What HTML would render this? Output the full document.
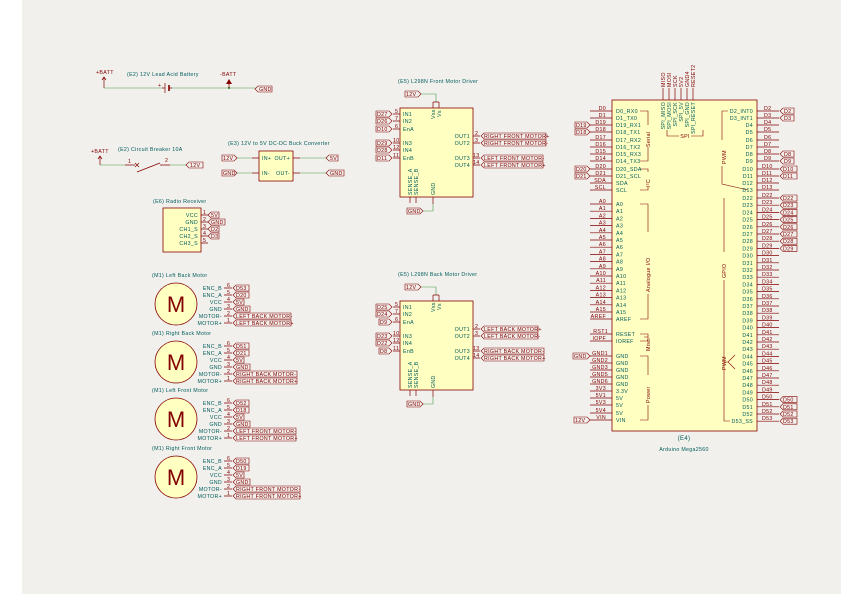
<!DOCTYPE html>
<html><head><meta charset="utf-8"><style>
html,body{margin:0;padding:0;background:#fff;}
svg{display:block;font-family:"Liberation Sans",sans-serif;}
.b{fill:#ffffc2;stroke:#840000;stroke-width:.8}
.p{stroke:#840000;stroke-width:.7;fill:none}
.w{stroke:#4a9a4a;stroke-width:.6;fill:none}
.g{stroke:#840000;stroke-width:.6;fill:none}
text{font-size:5.3px;letter-spacing:.3px}
.t{fill:#005c5c}
.r{fill:#840000}
.e{text-anchor:end}
.m{text-anchor:middle}
.l{fill:none;stroke:#840000;stroke-width:.6}
</style></head><body>
<svg width="841" height="595" viewBox="0 0 841 595" xmlns="http://www.w3.org/2000/svg">
<rect x="22" y="0" width="819" height="594" fill="#f1f0ec"/>

<!-- Battery -->
<text x="96" y="74" class="r">+BATT</text>
<path class="p" d="M104,77V88M102,80L104,77L106,80"/>
<path class="w" d="M104,88H162M171,88H255"/>
<path class="p" d="M162,88H165M165,83V93M169,88H172"/><path d="M169,85V91" stroke="#840000" stroke-width="1.6"/>
<text x="158" y="87" class="r">+</text>
<circle cx="229" cy="88" r="1.2" fill="#4a9a4a"/>
<text x="220" y="76" class="r">-BATT</text>
<path class="p" d="M229,81V88"/><path d="M226,84L229,79L232,84Z" fill="#840000"/>
<polygon class="l" points="255,89 258,86 272,86 272,92 258,92"/><text x="259" y="91" class="r">GND</text>
<text x="127" y="76" class="t">(E2) 12V Lead Acid Battery</text>

<!-- Breaker -->
<text x="91" y="153" class="r">+BATT</text>
<path class="p" d="M100,156V165M98,159L100,156L102,159"/>
<path class="w" d="M100,165H125M170,165H186"/>
<path class="p" d="M125,165H135M135,163L139,167M139,163L135,167M137,172L160,163M160,165H170"/>
<text x="128" y="163" class="r">1</text><text x="165" y="162" class="r">2</text>
<polygon class="l" points="186,165 189,162 203,162 203,168 189,168"/><text x="190" y="167" class="r">12V</text>
<text x="118" y="151" class="t">(E2) Circuit Breaker 10A</text>

<!-- Buck -->
<text x="228" y="145" class="t">(E3) 12V to 5V DC-DC Buck Converter</text>
<rect x="259" y="151" width="34" height="30" class="b"/>
<text x="262" y="160" class="t">IN+</text><text x="262" y="175" class="t">IN-</text>
<text x="290" y="160" class="t e">OUT+</text><text x="290" y="175" class="t e">OUT-</text>
<path class="p" d="M252,158H259M252,173H259M293,158H300M293,173H300"/>
<path class="w" d="M237,158H252M237,173H252M300,158H326M300,173H326"/>
<polygon class="l" points="237,158 234,155 222,155 222,161 234,161"/><text x="223" y="160" class="r">12V</text>
<polygon class="l" points="237,173 234,170 222,170 222,176 234,176"/><text x="223" y="175" class="r">GND</text>
<polygon class="l" points="326,158 329,155 338,155 338,161 329,161"/><text x="330" y="160" class="r">5V</text>
<polygon class="l" points="326,173 329,170 344,170 344,176 329,176"/><text x="330" y="175" class="r">GND</text>

<!-- Radio -->
<text x="153" y="203" class="t">(E6) Radio Receiver</text>
<rect x="163" y="208" width="38" height="44" class="b"/>
<g class="t e"><text x="198" y="217">VCC</text><text x="198" y="224">GND</text><text x="198" y="231">CH1_S</text><text x="198" y="238">CH2_S</text><text x="198" y="245">CH3_S</text></g>
<path class="p" d="M201,215H208M201,222H208M201,229H208M201,236H208M201,243H208"/>
<g class="r"><text x="203" y="214">1</text><text x="203" y="221">2</text><text x="203" y="228">3</text><text x="203" y="235">4</text><text x="203" y="242">5</text></g>
<polygon class="l" points="208,215 211,212 219,212 219,218 211,218"/><text x="211" y="217" class="r">5V</text>
<polygon class="l" points="208,222 211,219 225,219 225,225 211,225"/><text x="211" y="224" class="r">GND</text>
<polygon class="l" points="208,229 211,226 219,226 219,232 211,232"/><text x="211" y="231" class="r">D2</text>
<polygon class="l" points="208,236 211,233 219,233 219,239 211,239"/><text x="211" y="238" class="r">D3</text>

<!-- Motors -->
<g>
<text x="152" y="277" class="t">(M1) Left Back Motor</text>
<circle cx="176" cy="304" r="21" class="b"/><text x="176" y="312" class="r m" style="font-size:22px;letter-spacing:0">M</text>
<g class="t e"><text x="222" y="290">ENC_B</text><text x="222" y="297">ENC_A</text><text x="222" y="304">VCC</text><text x="222" y="311">GND</text><text x="222" y="318">MOTOR-</text><text x="222" y="325">MOTOR+</text></g>
<path class="p" d="M224,288H232M224,295H232M224,302H232M224,309H232M224,316H232M224,323H232"/>
<g class="r"><text x="227" y="287">6</text><text x="227" y="294">5</text><text x="227" y="301">4</text><text x="227" y="308">3</text><text x="227" y="315">2</text><text x="227" y="322">1</text></g>
<polygon class="l" points="233,288 236,285 249,285 249,291 236,291"/><text x="236" y="290" class="r">D53</text>
<polygon class="l" points="233,295 236,292 249,292 249,298 236,298"/><text x="236" y="297" class="r">D20</text>
<polygon class="l" points="233,302 236,299 244,299 244,305 236,305"/><text x="236" y="304" class="r">5V</text>
<polygon class="l" points="233,309 236,306 250,306 250,312 236,312"/><text x="236" y="311" class="r">GND</text>
<polygon class="l" points="233,316 236,313 291,313 291,319 236,319"/><text x="236" y="318" class="r">LEFT BACK MOTOR-</text>
<polygon class="l" points="233,323 236,320 291,320 291,326 236,326"/><text x="236" y="325" class="r">LEFT BACK MOTOR+</text>
</g>
<g transform="translate(0,58)">
<text x="152" y="277" class="t">(M1) Right Back Motor</text>
<circle cx="176" cy="304" r="21" class="b"/><text x="176" y="312" class="r m" style="font-size:22px;letter-spacing:0">M</text>
<g class="t e"><text x="222" y="290">ENC_B</text><text x="222" y="297">ENC_A</text><text x="222" y="304">VCC</text><text x="222" y="311">GND</text><text x="222" y="318">MOTOR-</text><text x="222" y="325">MOTOR+</text></g>
<path class="p" d="M224,288H232M224,295H232M224,302H232M224,309H232M224,316H232M224,323H232"/>
<g class="r"><text x="227" y="287">6</text><text x="227" y="294">5</text><text x="227" y="301">4</text><text x="227" y="308">3</text><text x="227" y="315">2</text><text x="227" y="322">1</text></g>
<polygon class="l" points="233,288 236,285 249,285 249,291 236,291"/><text x="236" y="290" class="r">D51</text>
<polygon class="l" points="233,295 236,292 249,292 249,298 236,298"/><text x="236" y="297" class="r">D21</text>
<polygon class="l" points="233,302 236,299 244,299 244,305 236,305"/><text x="236" y="304" class="r">5V</text>
<polygon class="l" points="233,309 236,306 250,306 250,312 236,312"/><text x="236" y="311" class="r">GND</text>
<polygon class="l" points="233,316 236,313 297,313 297,319 236,319"/><text x="236" y="318" class="r">RIGHT BACK MOTOR-</text>
<polygon class="l" points="233,323 236,320 297,320 297,326 236,326"/><text x="236" y="325" class="r">RIGHT BACK MOTOR+</text>
</g>
<g transform="translate(0,115)">
<text x="152" y="277" class="t">(M1) Left Front Motor</text>
<circle cx="176" cy="304" r="21" class="b"/><text x="176" y="312" class="r m" style="font-size:22px;letter-spacing:0">M</text>
<g class="t e"><text x="222" y="290">ENC_B</text><text x="222" y="297">ENC_A</text><text x="222" y="304">VCC</text><text x="222" y="311">GND</text><text x="222" y="318">MOTOR-</text><text x="222" y="325">MOTOR+</text></g>
<path class="p" d="M224,288H232M224,295H232M224,302H232M224,309H232M224,316H232M224,323H232"/>
<g class="r"><text x="227" y="287">6</text><text x="227" y="294">5</text><text x="227" y="301">4</text><text x="227" y="308">3</text><text x="227" y="315">2</text><text x="227" y="322">1</text></g>
<polygon class="l" points="233,288 236,285 249,285 249,291 236,291"/><text x="236" y="290" class="r">D52</text>
<polygon class="l" points="233,295 236,292 249,292 249,298 236,298"/><text x="236" y="297" class="r">D18</text>
<polygon class="l" points="233,302 236,299 244,299 244,305 236,305"/><text x="236" y="304" class="r">5V</text>
<polygon class="l" points="233,309 236,306 250,306 250,312 236,312"/><text x="236" y="311" class="r">GND</text>
<polygon class="l" points="233,316 236,313 296,313 296,319 236,319"/><text x="236" y="318" class="r">LEFT FRONT MOTOR-</text>
<polygon class="l" points="233,323 236,320 296,320 296,326 236,326"/><text x="236" y="325" class="r">LEFT FRONT MOTOR+</text>
</g>
<g transform="translate(0,173)">
<text x="152" y="277" class="t">(M1) Right Front Motor</text>
<circle cx="176" cy="304" r="21" class="b"/><text x="176" y="312" class="r m" style="font-size:22px;letter-spacing:0">M</text>
<g class="t e"><text x="222" y="290">ENC_B</text><text x="222" y="297">ENC_A</text><text x="222" y="304">VCC</text><text x="222" y="311">GND</text><text x="222" y="318">MOTOR-</text><text x="222" y="325">MOTOR+</text></g>
<path class="p" d="M224,288H232M224,295H232M224,302H232M224,309H232M224,316H232M224,323H232"/>
<g class="r"><text x="227" y="287">6</text><text x="227" y="294">5</text><text x="227" y="301">4</text><text x="227" y="308">3</text><text x="227" y="315">2</text><text x="227" y="322">1</text></g>
<polygon class="l" points="233,288 236,285 249,285 249,291 236,291"/><text x="236" y="290" class="r">D50</text>
<polygon class="l" points="233,295 236,292 249,292 249,298 236,298"/><text x="236" y="297" class="r">D19</text>
<polygon class="l" points="233,302 236,299 244,299 244,305 236,305"/><text x="236" y="304" class="r">5V</text>
<polygon class="l" points="233,309 236,306 250,306 250,312 236,312"/><text x="236" y="311" class="r">GND</text>
<polygon class="l" points="233,316 236,313 300,313 300,319 236,319"/><text x="236" y="318" class="r">RIGHT FRONT MOTOR-</text>
<polygon class="l" points="233,323 236,320 300,320 300,326 236,326"/><text x="236" y="325" class="r">RIGHT FRONT MOTOR+</text>
</g>

<!-- L298N Front -->
<g>
<text x="398" y="83" class="t">(E5) L298N Front Motor Driver</text>
<polygon class="l" points="421,94 418,91 405,91 405,97 418,97"/><text x="406" y="96" class="r">12V</text>
<path class="w" d="M421,94H436V102"/>
<path class="p" d="M433,102V108M439,102V108M433,102H439"/>
<rect x="400" y="108" width="73" height="89" class="b"/>
<text transform="translate(435,119) rotate(-90)" class="t">Vss</text><text transform="translate(441,117) rotate(-90)" class="t">Vs</text>
<g class="t"><text x="403" y="116">IN1</text><text x="403" y="123">IN2</text><text x="403" y="131">EnA</text><text x="403" y="145">IN3</text><text x="403" y="152">IN4</text><text x="403" y="160">EnB</text></g>
<path class="p" d="M393,114H400M393,121H400M393,129H400M393,143H400M393,150H400M393,158H400"/>
<g class="r"><text x="395" y="113">5</text><text x="395" y="120">7</text><text x="395" y="128">6</text><text x="393" y="142">10</text><text x="393" y="149">12</text><text x="393" y="157">11</text></g>
<polygon class="l" points="392,114 389,111 376,111 376,117 389,117"/><text x="377" y="116" class="r">D27</text>
<polygon class="l" points="392,121 389,118 376,118 376,124 389,124"/><text x="377" y="123" class="r">D26</text>
<polygon class="l" points="392,129 389,126 376,126 376,132 389,132"/><text x="377" y="131" class="r">D10</text>
<polygon class="l" points="392,143 389,140 376,140 376,146 389,146"/><text x="377" y="145" class="r">D29</text>
<polygon class="l" points="392,150 389,147 376,147 376,153 389,153"/><text x="377" y="152" class="r">D28</text>
<polygon class="l" points="392,158 389,155 376,155 376,161 389,161"/><text x="377" y="160" class="r">D11</text>
<g class="t e"><text x="470" y="138">OUT1</text><text x="470" y="145">OUT2</text><text x="470" y="160">OUT3</text><text x="470" y="167">OUT4</text></g>
<path class="p" d="M473,136H480M473,143H480M473,158H480M473,165H480"/>
<g class="r"><text x="475" y="135">2</text><text x="475" y="142">3</text><text x="473" y="157">13</text><text x="473" y="164">14</text></g>
<polygon class="l" points="481,136 484,133 546,133 546,139 484,139"/><text x="484" y="138" class="r">RIGHT FRONT MOTOR+</text>
<polygon class="l" points="481,143 484,140 546,140 546,146 484,146"/><text x="484" y="145" class="r">RIGHT FRONT MOTOR-</text>
<polygon class="l" points="481,158 484,155 543,155 543,161 484,161"/><text x="484" y="160" class="r">LEFT FRONT MOTOR-</text>
<polygon class="l" points="481,165 484,162 543,162 543,168 484,168"/><text x="484" y="167" class="r">LEFT FRONT MOTOR+</text>
<text transform="translate(412,195) rotate(-90)" class="t">SENSE_A</text><text transform="translate(418,195) rotate(-90)" class="t">SENSE_B</text><text transform="translate(435,195) rotate(-90)" class="t">GND</text>
<path class="p" d="M410,197V203M416,197V203M433,197V204"/>
<path class="w" d="M433,204V211H423"/>
<polygon class="l" points="423,211 420,208 407,208 407,214 420,214"/><text x="408" y="213" class="r">GND</text>
</g>

<!-- L298N Back -->
<g transform="translate(0,193)">
<text x="398" y="83" class="t">(E5) L298N Back Motor Driver</text>
<polygon class="l" points="421,94 418,91 405,91 405,97 418,97"/><text x="406" y="96" class="r">12V</text>
<path class="w" d="M421,94H436V102"/>
<path class="p" d="M433,102V108M439,102V108M433,102H439"/>
<rect x="400" y="108" width="73" height="89" class="b"/>
<text transform="translate(435,119) rotate(-90)" class="t">Vss</text><text transform="translate(441,117) rotate(-90)" class="t">Vs</text>
<g class="t"><text x="403" y="116">IN1</text><text x="403" y="123">IN2</text><text x="403" y="131">EnA</text><text x="403" y="145">IN3</text><text x="403" y="152">IN4</text><text x="403" y="160">EnB</text></g>
<path class="p" d="M393,114H400M393,121H400M393,129H400M393,143H400M393,150H400M393,158H400"/>
<g class="r"><text x="395" y="113">5</text><text x="395" y="120">7</text><text x="395" y="128">6</text><text x="393" y="142">10</text><text x="393" y="149">12</text><text x="393" y="157">11</text></g>
<polygon class="l" points="392,114 389,111 376,111 376,117 389,117"/><text x="377" y="116" class="r">D25</text>
<polygon class="l" points="392,121 389,118 376,118 376,124 389,124"/><text x="377" y="123" class="r">D24</text>
<polygon class="l" points="392,129 389,126 379,126 379,132 389,132"/><text x="380" y="131" class="r">D9</text>
<polygon class="l" points="392,143 389,140 376,140 376,146 389,146"/><text x="377" y="145" class="r">D23</text>
<polygon class="l" points="392,150 389,147 376,147 376,153 389,153"/><text x="377" y="152" class="r">D22</text>
<polygon class="l" points="392,158 389,155 379,155 379,161 389,161"/><text x="380" y="160" class="r">D8</text>
<g class="t e"><text x="470" y="138">OUT1</text><text x="470" y="145">OUT2</text><text x="470" y="160">OUT3</text><text x="470" y="167">OUT4</text></g>
<path class="p" d="M473,136H480M473,143H480M473,158H480M473,165H480"/>
<g class="r"><text x="475" y="135">2</text><text x="475" y="142">3</text><text x="473" y="157">13</text><text x="473" y="164">14</text></g>
<polygon class="l" points="481,136 484,133 538,133 538,139 484,139"/><text x="484" y="138" class="r">LEFT BACK MOTOR+</text>
<polygon class="l" points="481,143 484,140 538,140 538,146 484,146"/><text x="484" y="145" class="r">LEFT BACK MOTOR-</text>
<polygon class="l" points="481,158 484,155 544,155 544,161 484,161"/><text x="484" y="160" class="r">RIGHT BACK MOTOR-</text>
<polygon class="l" points="481,165 484,162 544,162 544,168 484,168"/><text x="484" y="167" class="r">RIGHT BACK MOTOR+</text>
<text transform="translate(412,195) rotate(-90)" class="t">SENSE_A</text><text transform="translate(418,195) rotate(-90)" class="t">SENSE_B</text><text transform="translate(435,195) rotate(-90)" class="t">GND</text>
<path class="p" d="M410,197V203M416,197V203M433,197V204"/>
<path class="w" d="M433,204V211H423"/>
<polygon class="l" points="423,211 420,208 407,208 407,214 420,214"/><text x="408" y="213" class="r">GND</text>
</g>

<!-- Arduino -->
<rect x="612" y="100" width="145" height="331" class="b"/>
<text x="684" y="440" class="t m" style="font-size:6px">(E4)</text>
<text x="684" y="451" class="t m">Arduino Mega2560</text>
<path class="p" d="M663,88V100M669,88V100M675,88V100M681,88V100M687,88V100M693,88V100"/>
<g class="r"><text transform="translate(665,87) rotate(-90)">MISO</text><text transform="translate(671,87) rotate(-90)">MOSI</text><text transform="translate(677,87) rotate(-90)">SCK</text><text transform="translate(683,87) rotate(-90)">5V2</text><text transform="translate(689,87) rotate(-90)">GND4</text><text transform="translate(695,87) rotate(-90)">RESET2</text></g>
<g class="t e"><text transform="translate(665,102) rotate(-90)">SPI_MISO</text><text transform="translate(671,102) rotate(-90)">SPI_MOSI</text><text transform="translate(677,102) rotate(-90)">SPI_SCK</text><text transform="translate(683,102) rotate(-90)">SPI_5V</text><text transform="translate(689,102) rotate(-90)">SPI_GND</text><text transform="translate(695,102) rotate(-90)">SPI_RESET</text></g>
<path class="g" d="M667,130V136H679M691,136H703V130"/><text x="685" y="138" class="r m">SPI</text>
<path class="g" d="M640,111H648V125M648,147V161H640M640,169H648V172M648,187V190H640M640,204H648V232M648,294V319H640M640,334H648V341H640M644,337H648M640,356H648V375M648,405V420H640"/>
<text transform="translate(650,147) rotate(-90)" class="r">Serial</text>
<text transform="translate(650,187) rotate(-90)" class="r">I²C</text>
<text transform="translate(650,292) rotate(-90)" class="r">Analogue I/O</text>
<text transform="translate(650,351) rotate(-90)" class="r">Misc.</text>
<text transform="translate(650,403) rotate(-90)" class="r">Power</text>
<path class="g" d="M728,111H722V140M722,166V184L748,190M724,198V252M724,280V421H730M735,355L728,362L735,369M724,362H728"/>
<text transform="translate(726,164) rotate(-90)" class="r">PWM</text>
<text transform="translate(726,278) rotate(-90)" class="r">GPIO</text>
<text transform="translate(726,370) rotate(-90)" class="r">PWM</text>

<g class="p"><path d="M590,111H612M590,118H612M590,125H612M590,132H612M590,140H612M590,147H612M590,154H612M590,161H612M590,169H612M590,176H612M590,183H612M590,190H612M590,204H612M590,211.2H612M590,218.4H612M590,225.6H612M590,232.8H612M590,240H612M590,247.2H612M590,254.4H612M590,261.6H612M590,268.8H612M590,276H612M590,283.2H612M590,290.4H612M590,297.6H612M590,304.8H612M590,312H612M590,319H612M590,334H612M590,341H612M590,356H612M590,363H612M590,370H612M590,377H612M590,384H612M590,391H612M590,398H612M590,405H612M590,413H612M590,420H612"/></g>
<g class="r e">
<text x="606" y="110">D0</text><text x="606" y="117">D1</text><text x="606" y="124">D19</text><text x="606" y="131">D18</text><text x="606" y="139">D17</text><text x="606" y="146">D16</text><text x="606" y="153">D15</text><text x="606" y="160">D14</text><text x="606" y="168">D20</text><text x="606" y="175">D21</text><text x="606" y="182">SDA</text><text x="606" y="189">SCL</text>
<text x="606" y="203">A0</text><text x="606" y="210.2">A1</text><text x="606" y="217.4">A2</text><text x="606" y="224.6">A3</text><text x="606" y="231.8">A4</text><text x="606" y="239">A5</text><text x="606" y="246.2">A6</text><text x="606" y="253.4">A7</text><text x="606" y="260.6">A8</text><text x="606" y="267.8">A9</text><text x="606" y="275">A10</text><text x="606" y="282.2">A11</text><text x="606" y="289.4">A12</text><text x="606" y="296.6">A13</text><text x="606" y="303.8">A14</text><text x="606" y="311">A15</text><text x="606" y="318">AREF</text>
<text x="608" y="333">RST1</text><text x="606" y="340">IOPF</text>
<text x="608" y="355">GND1</text><text x="608" y="362">GND2</text><text x="608" y="369">GND3</text><text x="608" y="376">GND5</text><text x="608" y="383">GND6</text><text x="606" y="390">3V3</text><text x="606" y="397">5V1</text><text x="606" y="404">5V3</text><text x="606" y="412">5V4</text><text x="606" y="419">VIN</text>
</g>
<g class="t">
<text x="616" y="113">D0_RX0</text><text x="616" y="120">D1_TX0</text><text x="616" y="127">D19_RX1</text><text x="616" y="134">D18_TX1</text><text x="616" y="142">D17_RX2</text><text x="616" y="149">D16_TX2</text><text x="616" y="156">D15_RX3</text><text x="616" y="163">D14_TX3</text><text x="616" y="171">D20_SDA</text><text x="616" y="178">D21_SCL</text><text x="616" y="185">SDA</text><text x="616" y="192">SCL</text>
<text x="616" y="206">A0</text><text x="616" y="213.2">A1</text><text x="616" y="220.4">A2</text><text x="616" y="227.6">A3</text><text x="616" y="234.8">A4</text><text x="616" y="242">A5</text><text x="616" y="249.2">A6</text><text x="616" y="256.4">A7</text><text x="616" y="263.6">A8</text><text x="616" y="270.8">A9</text><text x="616" y="278">A10</text><text x="616" y="285.2">A11</text><text x="616" y="292.4">A12</text><text x="616" y="299.6">A13</text><text x="616" y="306.8">A14</text><text x="616" y="314">A15</text><text x="616" y="321">AREF</text>
<text x="616" y="336">RESET</text><text x="616" y="343">IOREF</text>
<text x="616" y="358">GND</text><text x="616" y="365">GND</text><text x="616" y="372">GND</text><text x="616" y="379">GND</text><text x="616" y="386">GND</text><text x="616" y="393">3.3V</text><text x="616" y="400">5V</text><text x="616" y="407">5V</text><text x="616" y="415">5V</text><text x="616" y="422">VIN</text>
</g>
<polygon class="l" points="590,125 587,122 575,122 575,128 587,128"/><text x="576" y="127" class="r">D19</text>
<polygon class="l" points="590,132 587,129 575,129 575,135 587,135"/><text x="576" y="134" class="r">D18</text>
<polygon class="l" points="590,169 587,166 575,166 575,172 587,172"/><text x="576" y="171" class="r">D20</text>
<polygon class="l" points="590,176 587,173 575,173 575,179 587,179"/><text x="576" y="178" class="r">D21</text>
<polygon class="l" points="590,356 587,353 573,353 573,359 587,359"/><text x="574" y="358" class="r">GND</text>
<polygon class="l" points="590,420 587,417 574,417 574,423 587,423"/><text x="575" y="422" class="r">12V</text>

<path class="p" d="M757,111H779M757,118H779M757,125H779M757,132H779M757,140H779M757,147H779M757,154H779M757,161H779M757,169H779M757,176H779M757,183H779M757,190H779M757,198H779M757,205.2H779M757,212.4H779M757,219.6H779M757,226.8H779M757,234H779M757,241.2H779M757,248.4H779M757,255.6H779M757,262.8H779M757,270H779M757,277.2H779M757,284.4H779M757,291.6H779M757,298.8H779M757,306H779M757,313.2H779M757,320.4H779M757,327.6H779M757,334.8H779M757,342H779M757,349.2H779M757,356.4H779M757,363.6H779M757,370.8H779M757,378H779M757,385.2H779M757,392.4H779M757,399.6H779M757,406.8H779M757,414H779M757,421.2H779"/>
<g class="r">
<text x="764" y="110">D2</text><text x="764" y="117">D3</text><text x="764" y="124">D4</text><text x="764" y="131">D5</text><text x="764" y="139">D6</text><text x="764" y="146">D7</text><text x="764" y="153">D8</text><text x="764" y="160">D9</text><text x="762" y="168">D10</text><text x="762" y="175">D11</text><text x="762" y="182">D12</text><text x="762" y="189">D13</text>
<text x="762" y="197">D22</text><text x="762" y="204.2">D23</text><text x="762" y="211.4">D24</text><text x="762" y="218.6">D25</text><text x="762" y="225.8">D26</text><text x="762" y="233">D27</text><text x="762" y="240.2">D28</text><text x="762" y="247.4">D29</text><text x="762" y="254.6">D30</text><text x="762" y="261.8">D31</text><text x="762" y="269">D32</text><text x="762" y="276.2">D33</text><text x="762" y="283.4">D34</text><text x="762" y="290.6">D35</text><text x="762" y="297.8">D36</text><text x="762" y="305">D37</text><text x="762" y="312.2">D38</text><text x="762" y="319.4">D39</text><text x="762" y="326.6">D40</text><text x="762" y="333.8">D41</text><text x="762" y="341">D42</text><text x="762" y="348.2">D43</text><text x="762" y="355.4">D44</text><text x="762" y="362.6">D45</text><text x="762" y="369.8">D46</text><text x="762" y="377">D47</text><text x="762" y="384.2">D48</text><text x="762" y="391.4">D49</text><text x="762" y="398.6">D50</text><text x="762" y="405.8">D51</text><text x="762" y="413">D52</text><text x="762" y="420.2">D53</text>
</g>
<g class="t e">
<text x="753" y="113">D2_INT0</text><text x="753" y="120">D3_INT1</text><text x="753" y="127">D4</text><text x="753" y="134">D5</text><text x="753" y="142">D6</text><text x="753" y="149">D7</text><text x="753" y="156">D8</text><text x="753" y="163">D9</text><text x="753" y="171">D10</text><text x="753" y="178">D11</text><text x="753" y="185">D12</text><text x="753" y="192">D13</text>
<text x="753" y="200">D22</text><text x="753" y="207.2">D23</text><text x="753" y="214.4">D24</text><text x="753" y="221.6">D25</text><text x="753" y="228.8">D26</text><text x="753" y="236">D27</text><text x="753" y="243.2">D28</text><text x="753" y="250.4">D29</text><text x="753" y="257.6">D30</text><text x="753" y="264.8">D31</text><text x="753" y="272">D32</text><text x="753" y="279.2">D33</text><text x="753" y="286.4">D34</text><text x="753" y="293.6">D35</text><text x="753" y="300.8">D36</text><text x="753" y="308">D37</text><text x="753" y="315.2">D38</text><text x="753" y="322.4">D39</text><text x="753" y="329.6">D40</text><text x="753" y="336.8">D41</text><text x="753" y="344">D42</text><text x="753" y="351.2">D43</text><text x="753" y="358.4">D44</text><text x="753" y="365.6">D45</text><text x="753" y="372.8">D46</text><text x="753" y="380">D47</text><text x="753" y="387.2">D48</text><text x="753" y="394.4">D49</text><text x="753" y="401.6">D50</text><text x="753" y="408.8">D51</text><text x="753" y="416">D52</text><text x="753" y="423.2">D53_SS</text>
</g>
<g class="l">
<polygon points="780,111 783,108 794,108 794,114 783,114"/><polygon points="780,118 783,115 794,115 794,121 783,121"/>
<polygon points="780,154 783,151 794,151 794,157 783,157"/><polygon points="780,161 783,158 794,158 794,164 783,164"/>
<polygon points="780,169 783,166 797,166 797,172 783,172"/><polygon points="780,176 783,173 797,173 797,179 783,179"/>
<polygon points="780,198 783,195 797,195 797,201 783,201"/><polygon points="780,205.2 783,202.2 797,202.2 797,208.2 783,208.2"/><polygon points="780,212.4 783,209.4 797,209.4 797,215.4 783,215.4"/><polygon points="780,219.6 783,216.6 797,216.6 797,222.6 783,222.6"/><polygon points="780,226.8 783,223.8 797,223.8 797,229.8 783,229.8"/><polygon points="780,234 783,231 797,231 797,237 783,237"/><polygon points="780,241.2 783,238.2 797,238.2 797,244.2 783,244.2"/><polygon points="780,248.4 783,245.4 797,245.4 797,251.4 783,251.4"/>
<polygon points="780,399.6 783,396.6 797,396.6 797,402.6 783,402.6"/><polygon points="780,406.8 783,403.8 797,403.8 797,409.8 783,409.8"/><polygon points="780,414 783,411 797,411 797,417 783,417"/><polygon points="780,421.2 783,418.2 797,418.2 797,424.2 783,424.2"/>
</g>
<g class="r">
<text x="784" y="113">D2</text><text x="784" y="120">D3</text><text x="784" y="156">D8</text><text x="784" y="163">D9</text><text x="783" y="171">D10</text><text x="783" y="178">D11</text>
<text x="783" y="200">D22</text><text x="783" y="207.2">D23</text><text x="783" y="214.4">D24</text><text x="783" y="221.6">D25</text><text x="783" y="228.8">D26</text><text x="783" y="236">D27</text><text x="783" y="243.2">D28</text><text x="783" y="250.4">D29</text>
<text x="783" y="401.6">D50</text><text x="783" y="408.8">D51</text><text x="783" y="416">D52</text><text x="783" y="423.2">D53</text>
</g>
</svg>
</body></html>
